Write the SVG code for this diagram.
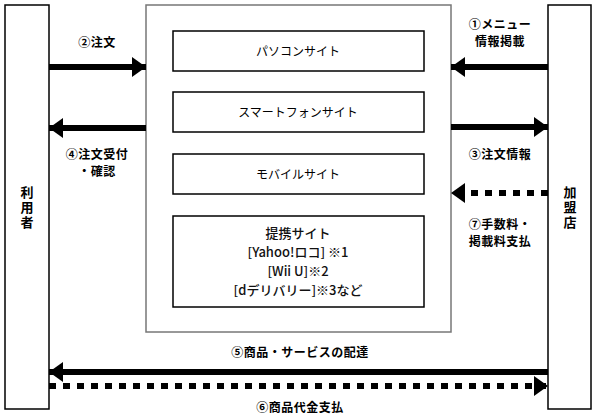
<svg xmlns="http://www.w3.org/2000/svg" width="600" height="419" viewBox="0 0 600 419">
<style>
text{font-family:"Noto Sans CJK JP","Noto Sans",sans-serif;font-size:12px;fill:#000;text-anchor:middle}
.lbl{font-weight:bold;letter-spacing:0.5px}
.side{font-weight:bold;font-size:13px;writing-mode:vertical-rl;letter-spacing:2px}
.pt{font-size:13px;font-weight:500;fill:#111}
.bar{fill:#fff;stroke:#000;stroke-width:1.5}
.outer{fill:#fff;stroke:#777;stroke-width:1.5}
.box{fill:#fff;stroke:#000;stroke-width:1.5}
.solid{stroke:#000;stroke-width:6;fill:none}
.dot{stroke:#000;stroke-width:6;fill:none;stroke-dasharray:7 7}
</style>
<defs>
<marker id="ah" viewBox="0 0 14 20" refX="14" refY="10" markerWidth="14" markerHeight="20" markerUnits="userSpaceOnUse" orient="auto">
<path d="M0,0 L14,10 L0,20 Z" fill="#000"/>
</marker>
</defs>
<g id="user"><rect class="bar" x="5" y="5" width="44" height="404"/>
<text class="side" x="27" y="208">利用者</text></g>
<g id="shop"><rect class="bar" x="548" y="5" width="43" height="404"/>
<text class="side" x="570" y="208">加盟店</text></g>
<g id="sites"><rect class="outer" x="146" y="5" width="305" height="327"/></g>
<g id="pc"><rect class="box" x="173" y="31" width="251" height="40"/><text x="298" y="56">パソコンサイト</text></g>
<g id="sp"><rect class="box" x="173" y="92" width="251" height="40"/><text x="298" y="117">スマートフォンサイト</text></g>
<g id="mobile"><rect class="box" x="173" y="154" width="251" height="40"/><text x="298" y="179">モバイルサイト</text></g>
<g id="partner"><rect class="box" x="173" y="216" width="251" height="91"/>
<text class="pt" x="298" y="238">提携サイト</text>
<text class="pt" x="298" y="257">[Yahoo!ロコ] ※1</text>
<text class="pt" x="298" y="276">[Wii U]※2</text>
<text class="pt" x="298" y="295">[dデリバリー]※3など</text></g>
<g id="connectors">
<line class="solid" x1="49" y1="67" x2="146" y2="67" marker-end="url(#ah)"/>
<line class="solid" x1="146" y1="128" x2="49" y2="128" marker-end="url(#ah)"/>
<line class="solid" x1="548" y1="67" x2="451" y2="67" marker-end="url(#ah)"/>
<line class="solid" x1="451" y1="127" x2="548" y2="127" marker-end="url(#ah)"/>
<line class="dot" x1="548" y1="193" x2="451" y2="193" marker-end="url(#ah)"/>
<line class="solid" x1="548" y1="372" x2="49" y2="372" marker-end="url(#ah)"/>
<line class="dot" x1="49" y1="386" x2="548" y2="386" marker-end="url(#ah)"/>
</g>
<g id="labels">
<text class="lbl" x="97" y="47">②注文</text>
<text class="lbl" x="97" y="159">④注文受付</text>
<text class="lbl" x="97" y="176">・確認</text>
<text class="lbl" x="500" y="29">①メニュー</text>
<text class="lbl" x="500" y="46">情報掲載</text>
<text class="lbl" x="500" y="159">③注文情報</text>
<text class="lbl" x="500" y="229">⑦手数料・</text>
<text class="lbl" x="500" y="246">掲載料支払</text>
<text class="lbl" x="300" y="357">⑤商品・サービスの配達</text>
<text class="lbl" x="300" y="412">⑥商品代金支払</text>
</g>
</svg>
